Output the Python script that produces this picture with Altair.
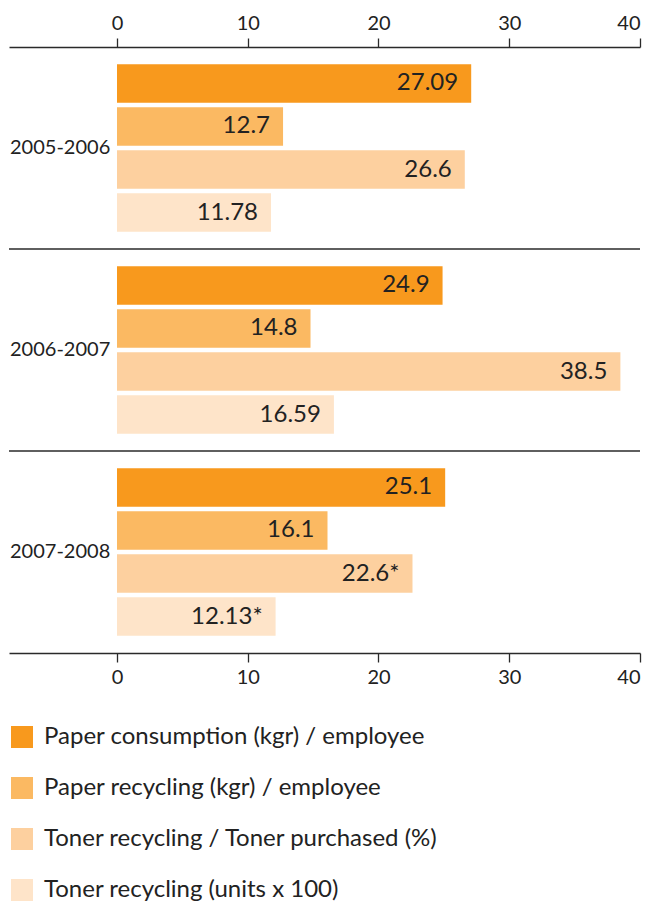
import altair as alt
import pandas as pd

years = ["2005-2006", "2006-2007", "2007-2008"]
series = [
    "Paper consumption (kgr) / employee",
    "Paper recycling (kgr) / employee",
    "Toner recycling / Toner purchased (%)",
    "Toner recycling (units x 100)",
]
paper_consumption = [27.09, 24.9, 25.1]
paper_recycling = [12.7, 14.8, 16.1]
toner_pct = [26.6, 38.5, 22.6]
toner_units = [11.78, 16.59, 12.13]
paper_consumption_labels = ["27.09", "24.9", "25.1"]
paper_recycling_labels = ["12.7", "14.8", "16.1"]
toner_pct_labels = ["26.6", "38.5", "22.6*"]
toner_units_labels = ["11.78", "16.59", "12.13*"]
tick_values = [0, 10, 20, 30, 40]
colors = ["#F8991D", "#FBB962", "#FDD09F", "#FEE4C9"]

FONT = "Lato"
INK = "#222222"
LINE = "#2a2a2a"

rows = []
for s, vals, labs in zip(
    series,
    [paper_consumption, paper_recycling, toner_pct, toner_units],
    [paper_consumption_labels, paper_recycling_labels, toner_pct_labels, toner_units_labels],
):
    for y, v, l in zip(years, vals, labs):
        rows.append({"year": y, "series": s, "value": v, "label": l})
df = pd.DataFrame(rows)
df_years = pd.DataFrame({"year": years})
df_sep = pd.DataFrame({"year": years[1:]})

W, H = 631, 606
xscale = alt.Scale(domain=[-8.26, 40], nice=False, zero=False)
yscale = alt.Scale(domain=years, paddingInner=0, paddingOuter=0)
yoff = alt.YOffset(
    "series:N",
    sort=series,
    scale=alt.Scale(domain=series, paddingInner=0.105, paddingOuter=0.4),
)

axis_common = dict(
    values=tick_values,
    grid=False,
    domainColor=LINE,
    domainWidth=1.5,
    tickColor=LINE,
    tickWidth=1.3,
    tickSize=9,
    labelFont=FONT,
    labelFontSize=20,
    labelColor=INK,
    labelPadding=5,
    title=None,
)

bars = alt.Chart(df).mark_bar().encode(
    x=alt.X("value:Q", scale=xscale, axis=alt.Axis(orient="top", **axis_common)),
    x2=alt.datum(0),
    y=alt.Y("year:N", scale=yscale, axis=None),
    yOffset=yoff,
    color=alt.Color(
        "series:N",
        sort=series,
        scale=alt.Scale(domain=series, range=colors),
        legend=alt.Legend(
            title=None,
            orient="none",
            legendX=1,
            legendY=678,
            direction="vertical",
            symbolType="square",
            symbolSize=484,
            symbolStrokeWidth=0,
            symbolOpacity=1,
            labelFont=FONT,
            labelFontSize=24,
            labelColor=INK,
            labelOffset=10,
            rowPadding=27,
            labelLimit=600,
            padding=0,
        ),
    ),
)

labels = alt.Chart(df).mark_text(
    align="right", baseline="middle", dx=-13, font=FONT, fontSize=24, color=INK
).encode(
    x=alt.X("value:Q", scale=xscale, axis=alt.Axis(orient="bottom", **axis_common)),
    y=alt.Y("year:N", scale=yscale, axis=None),
    yOffset=yoff,
    text="label:N",
)

year_text = alt.Chart(df_years).mark_text(
    align="left", baseline="middle", font=FONT, fontSize=20, color=INK
).encode(
    x=alt.value(1),
    y=alt.Y("year:N", scale=yscale, axis=None),
    text="year:N",
)

seps = alt.Chart(df_sep).mark_rule(color=LINE, strokeWidth=1.3).encode(
    y=alt.Y("year:N", scale=yscale, axis=None, bandPosition=0),
    x=alt.value(0),
    x2=alt.value(W),
)

chart = (
    alt.layer(bars, labels, year_text, seps)
    .resolve_axis(x="independent")
    .properties(
        width=W,
        height=H,
        autosize="none",
        background="white",
        padding={"left": 9, "top": 47, "right": 14, "bottom": 253},
    )
    .configure_view(stroke=None)
)

chart.save("out.html", embed_options={"renderer": "svg", "actions": False})
